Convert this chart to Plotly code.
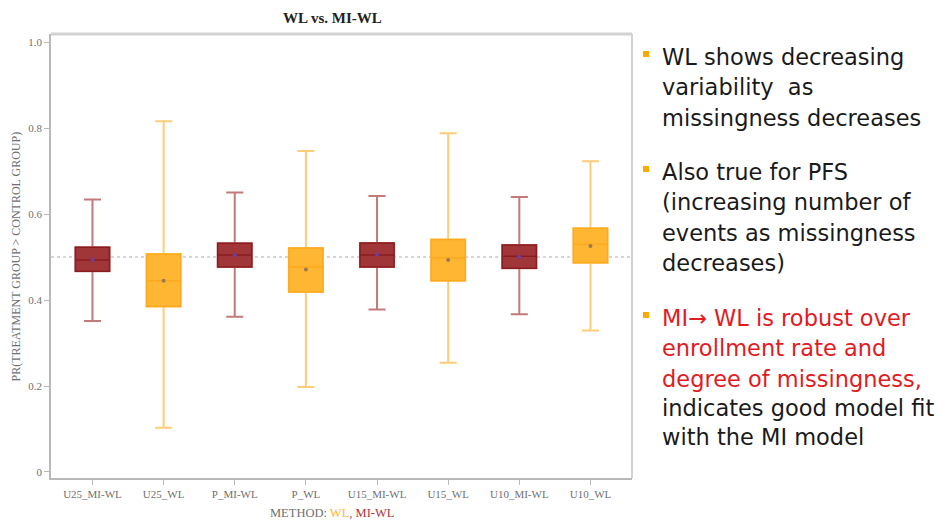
import plotly.graph_objects as go

# ---------------- data ----------------
methods = ['U25_MI-WL', 'U25_WL', 'P_MI-WL', 'P_WL', 'U15_MI-WL', 'U15_WL', 'U10_MI-WL', 'U10_WL']

mi_methods = ['U25_MI-WL', 'P_MI-WL', 'U15_MI-WL', 'U10_MI-WL']
mi_low = [0.351, 0.361, 0.378, 0.367]
mi_q1 = [0.467, 0.477, 0.477, 0.474]
mi_med = [0.493, 0.505, 0.505, 0.502]
mi_q3 = [0.523, 0.532, 0.533, 0.528]
mi_high = [0.634, 0.650, 0.642, 0.640]
mi_mean = [0.494, 0.504, 0.506, 0.500]

wl_methods = ['U25_WL', 'P_WL', 'U15_WL', 'U10_WL']
wl_low = [0.103, 0.198, 0.254, 0.329]
wl_q1 = [0.385, 0.419, 0.445, 0.487]
wl_med = [0.445, 0.477, 0.498, 0.530]
wl_q3 = [0.507, 0.521, 0.541, 0.567]
wl_high = [0.816, 0.747, 0.788, 0.723]
wl_mean = [0.445, 0.471, 0.493, 0.526]

ytick_vals = [0, 0.2, 0.4, 0.6, 0.8, 1.0]
ytick_text = ['0', '0.2', '0.4', '0.6', '0.8', '1.0']

ref_line = 0.5

RED = '#e21a22'
DARK = '#1a1a1a'
bullet_lines = [
    [("WL shows decreasing", DARK), ("variability  as", DARK), ("missingness decreases", DARK)],
    [("Also true for PFS", DARK), ("(increasing number of", DARK), ("events as missingness", DARK),
     ("decreases)", DARK)],
    [("MI\u2192 WL is robust over", RED), ("enrollment rate and", RED), ("degree of missingness,", RED),
     ("indicates good model fit", DARK), ("with the MI model", DARK)],
]
line_centers = [
    [57, 87.5, 118],
    [172, 202, 232.5, 263],
    [318, 348, 378.5, 408, 437],
]

# ---------------- layout helpers ----------------
OFF = 8          # page body margin
W, H = 941, 517
def px(x):
    return (x - OFF) / W
def py(y):
    return 1 - (y - OFF) / H

SERIF = "Liberation Serif, Times New Roman, serif"
SANS = "DejaVu Sans, Arial, sans-serif"

MI_FILL = '#a03638'
MI_LINE = '#8a1c20'
MI_WHISK = '#c27a7b'
WL_FILL = '#ffb733'
WL_LINE = '#ffa91c'
WL_WHISK = '#ffcd78'

fig = go.Figure()

def add_group(xs, low, q1, med, q3, high, mean, fill, line, whisk, meancol):
    # whiskers (lighter)
    fig.add_trace(go.Box(
        x=xs, q1=q1, median=med, q3=q3, lowerfence=low, upperfence=high,
        fillcolor='rgba(0,0,0,0)', line=dict(color=whisk, width=2),
        width=0.48, whiskerwidth=0.5, boxpoints=False, showlegend=False, hoverinfo='skip'))
    # box body
    fig.add_trace(go.Box(
        x=xs, q1=q1, median=med, q3=q3, lowerfence=q1, upperfence=q3,
        fillcolor=fill, line=dict(color=line, width=1.5),
        width=0.48, whiskerwidth=0.0, boxpoints=False, showlegend=False))
    # mean markers
    fig.add_trace(go.Scatter(
        x=xs, y=mean, mode='markers',
        marker=dict(size=4, color=meancol), showlegend=False))

add_group(mi_methods, mi_low, mi_q1, mi_med, mi_q3, mi_high, mi_mean,
          MI_FILL, MI_LINE, MI_WHISK, '#6b3fa0')
add_group(wl_methods, wl_low, wl_q1, wl_med, wl_q3, wl_high, wl_mean,
          WL_FILL, WL_LINE, WL_WHISK, '#9a7a55')

x0, x1 = 51, 632
y0, y1 = 34, 478

fig.update_layout(
    width=W, height=H,
    margin=dict(l=0, r=0, t=0, b=0),
    paper_bgcolor='white', plot_bgcolor='white',
    boxmode='overlay',
    showlegend=False,
    xaxis=dict(
        domain=[px(x0), px(x1)],
        type='category', categoryorder='array', categoryarray=methods,
        range=[-0.583, 7.584],
        showgrid=False, zeroline=False,
        showline=True, linecolor='#b8b8b8', linewidth=1.5,
        ticks='outside', ticklen=5, tickcolor='#b8b8b8', tickwidth=1,
        tickfont=dict(family=SERIF, size=11, color='#707070'),
        automargin=False,
    ),
    yaxis=dict(
        domain=[py(y1), py(y0)],
        range=[-0.014, 1.019],
        tickvals=ytick_vals, ticktext=ytick_text,
        showgrid=False, zeroline=False,
        showline=True, linecolor='#b8b8b8', linewidth=1.5,
        ticks='outside', ticklen=5, tickcolor='#b8b8b8', tickwidth=1,
        tickfont=dict(family=SERIF, size=11, color='#707070'),
        automargin=False,
    ),
)

# reference line at 0.5
fig.add_shape(type='line', xref='paper', yref='y', x0=px(x0), x1=px(x1), y0=ref_line, y1=ref_line,
              line=dict(color='#c8c8c8', width=1.5, dash='dot'), layer='below')
# top and right frame
fig.add_shape(type='line', xref='paper', yref='paper', x0=px(x0), x1=px(x1), y0=py(y0), y1=py(y0),
              line=dict(color='#d2d2d2', width=3))
fig.add_shape(type='line', xref='paper', yref='paper', x0=px(x1), x1=px(x1), y0=py(y0), y1=py(y1),
              line=dict(color='#d2d2d2', width=2))

# title
fig.add_annotation(text='<b>WL vs. MI-WL</b>', xref='paper', yref='paper', x=px(332), y=py(8.5),
                   xanchor='center', yanchor='top', showarrow=False,
                   font=dict(family=SERIF, size=15, color='#222222'))
# y-axis title
fig.add_annotation(text='PR(TREATMENT GROUP > CONTROL GROUP)', xref='paper', yref='paper',
                   x=px(15.5), y=py(257), xanchor='center', yanchor='middle', textangle=-90,
                   showarrow=False, font=dict(family=SERIF, size=12, color='#707070'))
# x-axis title
fig.add_annotation(text="METHOD: <span style='color:#ffb733'>WL</span>, <span style='color:#b0353a'>MI-WL</span>",
                   xref='paper', yref='paper', x=px(332), y=py(513), xanchor='center', yanchor='middle',
                   showarrow=False, font=dict(family=SERIF, size=12.5, color='#707070'))

# right-hand bullet text
for lines, centers in zip(bullet_lines, line_centers):
    for (txt, col), cy in zip(lines, centers):
        fig.add_annotation(text=txt, xref='paper', yref='paper', x=px(660), y=py(cy),
                           xanchor='left', yanchor='middle', align='left', showarrow=False,
                           font=dict(family=SANS, size=22.5, color=col))
    by = centers[0] - 3
    fig.add_shape(type='rect', xref='paper', yref='paper',
                  x0=px(643), x1=px(649), y0=py(by - 3), y1=py(by + 3),
                  fillcolor='#ffa800', line=dict(width=0))

fig.write_html("out.html")
